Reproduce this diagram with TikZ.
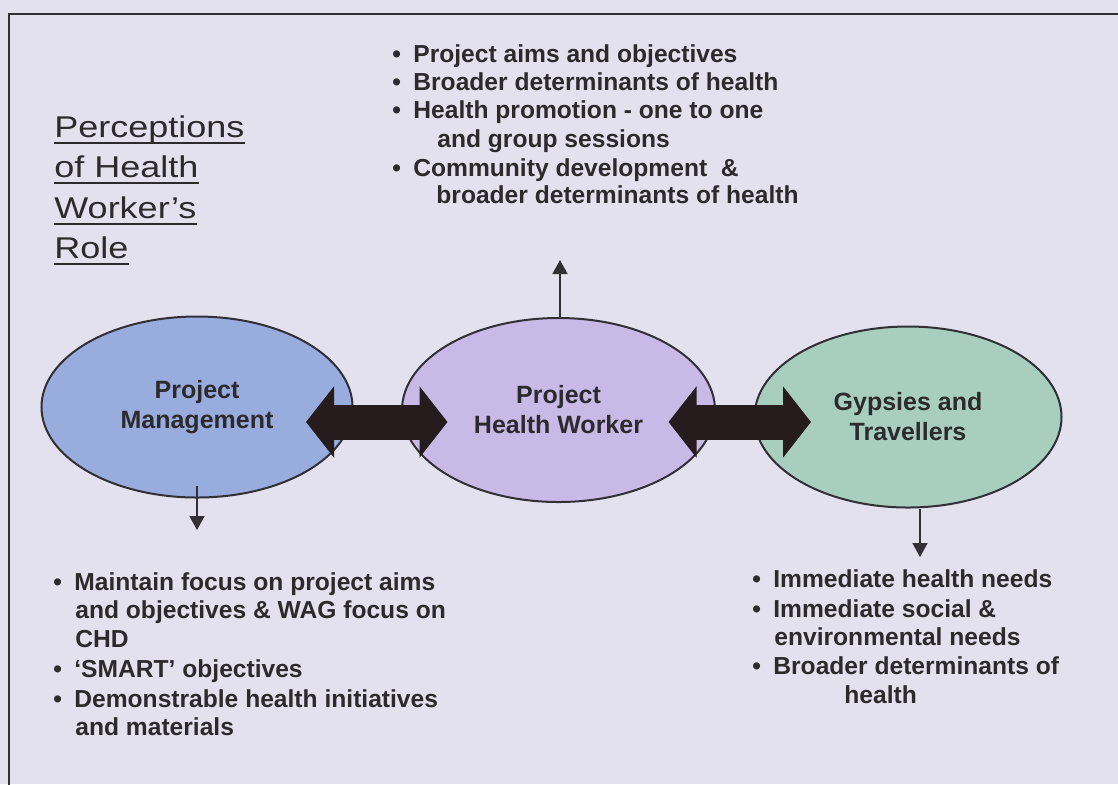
\documentclass[tikz,border=0pt]{standalone}
\usepackage{fontspec}
\setmainfont{Liberation Sans}
\newfontfamily\titlefont[FakeStretch=1.2]{Liberation Sans}
\usetikzlibrary{arrows.meta,shapes.geometric}

\definecolor{paper}{RGB}{226,225,237}
\definecolor{ink}{RGB}{45,42,46}
\definecolor{edgegray}{RGB}{50,48,54}
\definecolor{arrowc}{RGB}{38,28,30}
\definecolor{pmblue}{RGB}{152,172,222}
\definecolor{phwlilac}{RGB}{200,185,230}
\definecolor{gtgreen}{RGB}{168,206,192}
\newcommand{\bl}{\makebox[10.5pt][l]{\textbullet}}

\begin{document}
\begin{tikzpicture}[x=0.5pt,y=-0.5pt,
  blob/.style={ellipse,draw=edgegray,line width=1pt,inner sep=0pt,align=center,
    font=\fontsize{12.5pt}{15pt}\selectfont\bfseries,text=ink},
  txt/.style={anchor=base west,inner sep=0pt,font=\fontsize{12.3pt}{14pt}\selectfont\bfseries,text=ink},
  ttl/.style={anchor=base west,inner sep=0pt,font=\fontsize{15pt}{18pt}\titlefont,text=ink},
  fat/.style={draw=arrowc,line width=17.5pt,{Triangle[length=14pt,width=35pt]}-{Triangle[length=14pt,width=35pt]}},
  pointer/.style={draw=edgegray,line width=0.8pt,-{Triangle[length=7pt,width=7.5pt]}}]
\useasboundingbox (0,0) rectangle (1118,784);
\clip (0,0) rectangle (1118,784);
\fill[paper] (0,0) rectangle (1118,784);
\draw[edgegray,line width=1.2pt] (9,800) -- (9,14) -- (1130,14);

 \draw (54,137) node[ttl] (t1) {Perceptions};
 \draw (54,177) node[ttl] (t2) {of Health};
 \draw (54,218) node[ttl] (t3) {Worker’s};
 \draw (54,258) node[ttl] (t4) {Role};
 \foreach \t in {t1,t2,t3,t4}
   \draw[ink,line width=1pt] ([yshift=-2.8pt]\t.base west) -- ([yshift=-2.8pt]\t.base east);

  \draw (197,407) node[blob,fill=pmblue,minimum width=155.5pt,minimum height=90.5pt] (mgmt) {Project\\Management};
  \draw (558.5,410) node[blob,fill=phwlilac,minimum width=156.5pt,minimum height=92pt] (phw) {Project\\Health Worker};
  \draw (908,417) node[blob,fill=gtgreen,minimum width=153.5pt,minimum height=90.5pt] (gyp) {Gypsies and\\Travellers};

    \draw (392,62) node[txt] (aims) {\bl Project aims and objectives};
    \draw (392,90) node[txt] (broad) {\bl Broader determinants of health};
    \draw (392,118) node[txt] (promo) {\bl Health promotion - one to one};
    \draw (437,147) node[txt] (promo2) {and group sessions};
    \draw (392,176) node[txt] (comm) {\bl Community development \ \&};
    \draw (436,203) node[txt] (comm2) {broader determinants of health};

    \draw (53,590) node[txt] (focus) {\bl Maintain focus on project aims};
    \draw (75,618) node[txt] (focus2) {and objectives \& WAG focus on};
    \draw (75,647) node[txt] (focus3) {CHD};
    \draw (53,677) node[txt] (smart) {\bl ‘SMART’ objectives};
    \draw (53,707) node[txt] (demo) {\bl Demonstrable health initiatives};
    \draw (75,735) node[txt] (demo2) {and materials};

    \draw (752,587) node[txt] (needs) {\bl Immediate health needs};
    \draw (752,617) node[txt] (social) {\bl Immediate social \&};
    \draw (774,645) node[txt] (social2) {environmental needs};
    \draw (752,674) node[txt] (bdet) {\bl Broader determinants of};
    \draw (844,703) node[txt] (bdet2) {health};

  \coordinate (mtip) at (197,530);
  \coordinate (ptip) at (560,260);
  \coordinate (gtip) at (920,557);

     \draw[fat,shorten <=-23.75pt,shorten >=-23.25pt] ([yshift=-7.5pt]mgmt.east) -- ([yshift=-6pt]phw.west);
     \draw[fat,shorten <=-23.75pt,shorten >=-28.75pt] ([yshift=-6pt]phw.east) -- ([yshift=-2.5pt]gyp.west);
     \draw[pointer] ([yshift=6.5pt]mgmt.south) -- (mtip);
     \draw[pointer] ([xshift=0.75pt]phw.north) -- (ptip);
     \draw[pointer] ([xshift=6pt]gyp.south) -- (gtip);

\end{tikzpicture}
\end{document}
